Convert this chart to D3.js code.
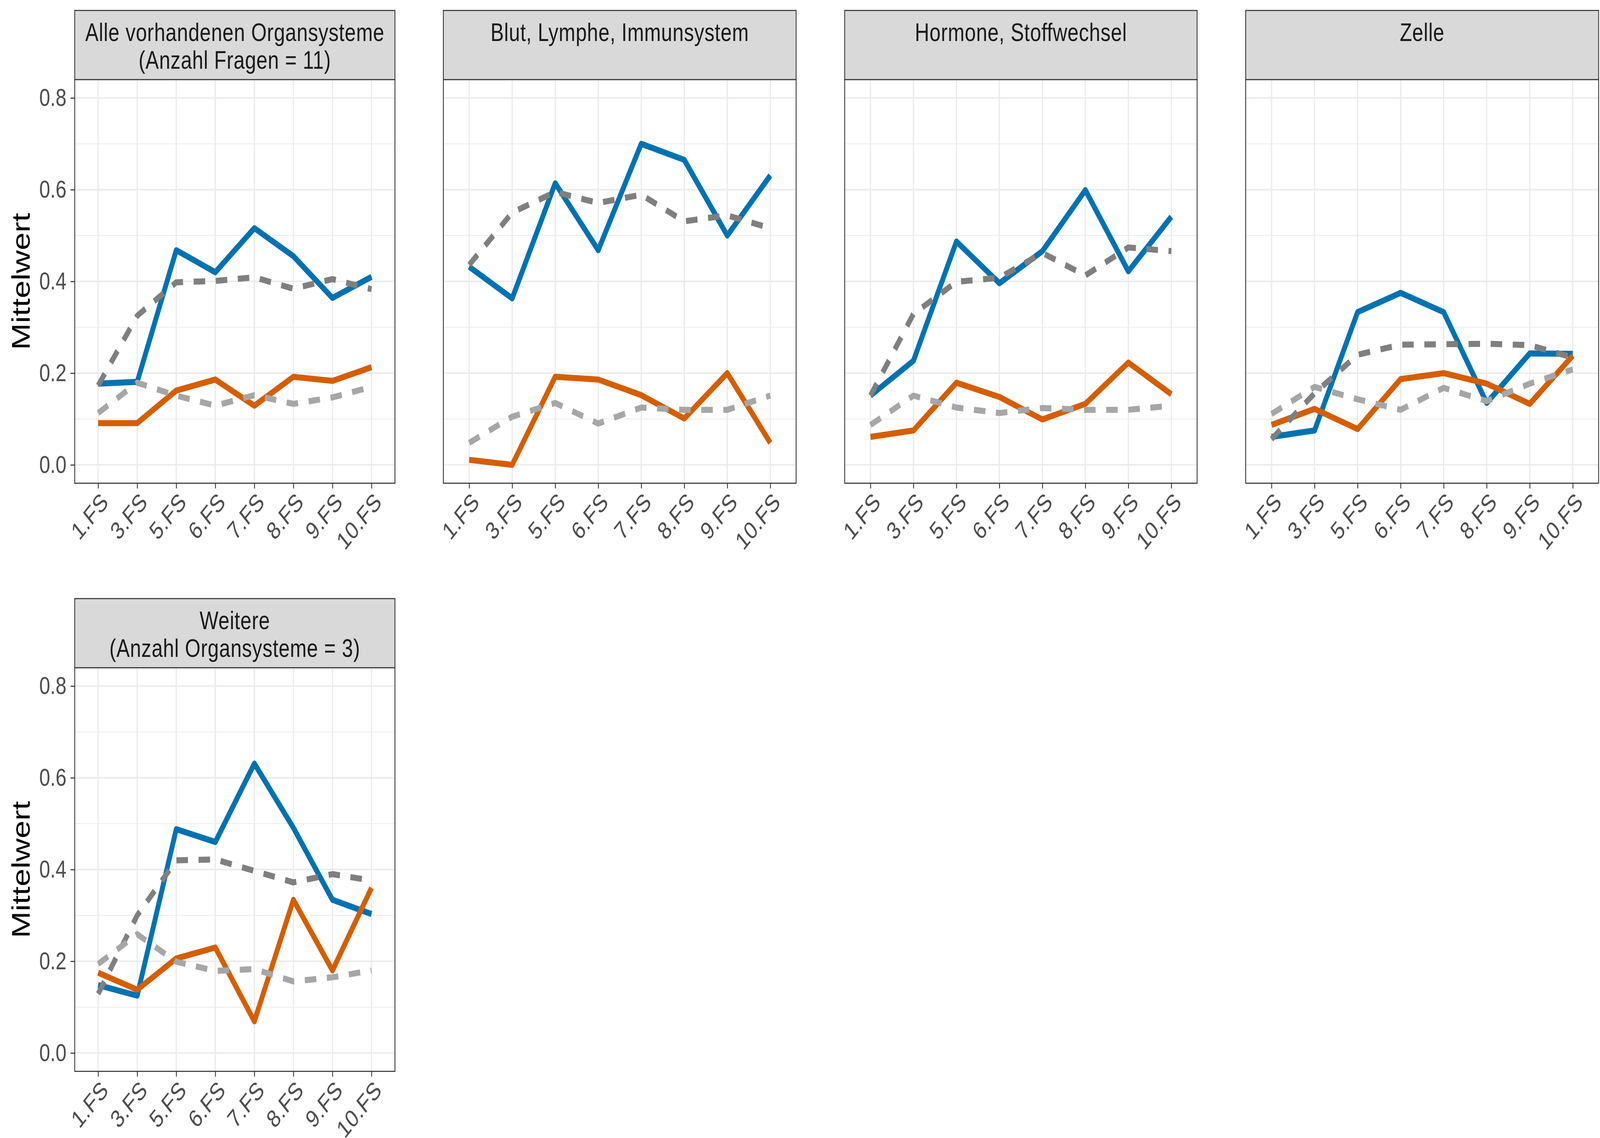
<!DOCTYPE html>
<html lang="de">
<head>
<meta charset="utf-8" />
<title>Mittelwert nach Organsystem</title>
<style>
  * { margin: 0; padding: 0; }
  html, body { background: white; overflow: hidden; }
  svg { display: block; width: 100vw; height: 100vh; font-family: "Liberation Sans", Arial, sans-serif; }
</style>
</head>
<body>
<script src="https://d3js.org/d3.v7.min.js"></script>
<div id="chart"></div>
<script>

  // categories and labels
  var categories = ["1.FS", "3.FS", "5.FS", "6.FS", "7.FS", "8.FS", "9.FS", "10.FS"];
  var panelTitles = [
    ["Alle vorhandenen Organsysteme", "(Anzahl Fragen = 11)"],
    ["Blut, Lymphe, Immunsystem"],
    ["Hormone, Stoffwechsel"],
    ["Zelle"],
    ["Weitere", "(Anzahl Organsysteme = 3)"]
  ];
  var yTicks = [0, 0.2, 0.4, 0.6, 0.8];
  var yMinor = [0.1, 0.3, 0.5, 0.7];

  // series values, one row per panel
  var blueSeries = [
    [0.177, 0.181, 0.468, 0.420, 0.516, 0.455, 0.364, 0.410],
    [0.432, 0.363, 0.614, 0.468, 0.700, 0.665, 0.500, 0.631],
    [0.151, 0.227, 0.487, 0.396, 0.466, 0.599, 0.422, 0.541],
    [0.061, 0.075, 0.333, 0.375, 0.333, 0.135, 0.243, 0.242],
    [0.148, 0.125, 0.488, 0.460, 0.631, 0.491, 0.334, 0.303]
  ];
  var orangeSeries = [
    [0.091, 0.091, 0.162, 0.186, 0.129, 0.192, 0.183, 0.213],
    [0.011, 0.000, 0.192, 0.186, 0.152, 0.101, 0.200, 0.048],
    [0.061, 0.075, 0.179, 0.148, 0.099, 0.133, 0.223, 0.154],
    [0.087, 0.122, 0.078, 0.187, 0.200, 0.177, 0.133, 0.238],
    [0.175, 0.138, 0.206, 0.230, 0.069, 0.334, 0.180, 0.360]
  ];
  var darkGreySeries = [
    [0.173, 0.325, 0.398, 0.401, 0.409, 0.384, 0.405, 0.383],
    [0.436, 0.550, 0.595, 0.571, 0.589, 0.531, 0.544, 0.516],
    [0.151, 0.329, 0.399, 0.408, 0.462, 0.413, 0.474, 0.466],
    [0.056, 0.156, 0.240, 0.262, 0.263, 0.264, 0.261, 0.234],
    [0.129, 0.300, 0.420, 0.422, 0.397, 0.372, 0.390, 0.376]
  ];
  var lightGreySeries = [
    [0.113, 0.179, 0.151, 0.129, 0.152, 0.133, 0.147, 0.170],
    [0.048, 0.105, 0.135, 0.090, 0.125, 0.120, 0.120, 0.151],
    [0.087, 0.151, 0.125, 0.113, 0.124, 0.120, 0.120, 0.129],
    [0.111, 0.170, 0.143, 0.120, 0.168, 0.139, 0.177, 0.208],
    [0.194, 0.259, 0.199, 0.179, 0.183, 0.156, 0.165, 0.180]
  ];

  var series = [
    { values: blueSeries, color: "#0072B2", dash: null },
    { values: orangeSeries, color: "#D55E00", dash: null },
    { values: darkGreySeries, color: "#7F7F7F", dash: "37,34" },
    { values: lightGreySeries, color: "#A6A6A6", dash: "37,34" }
  ];

  // panel layout (pixels, in the 5139 x 2914 view box)
  var W = 5139, H = 2914;
  var stripH = 177, plotH = 1033.5, rowStep = 1506;
  var panels = [
    { x0: 240, x1: 1268.5, top: 26.8, yAxis: true },
    { x0: 1424, x1: 2557, top: 26.8, yAxis: false },
    { x0: 2713, x1: 3845, top: 26.8, yAxis: false },
    { x0: 4001, x1: 5134.5, top: 26.8, yAxis: false },
    { x0: 240, x1: 1268.5, top: 26.8 + rowStep, yAxis: true }
  ];

  var fontSmall = 63, fontStrip = 64, fontTitle = 82, tickLen = 13.5;
  var border = "#333333", grid = "#EBEBEB";

  // the window may be narrower than the picture, so the view box is stretched to fill it
  var svg = d3.select("#chart").append("svg")
      .attr("viewBox", "0 0 " + W + " " + H)
      .attr("preserveAspectRatio", "none");

  panels.forEach(function(p, i) {
    var plotTop = p.top + stripH;
    var plotBottom = plotTop + plotH;

    var x = d3.scalePoint()
        .domain(categories)
        .range([p.x0, p.x1])
        .padding(0.6);
    var y = d3.scaleLinear()
        .domain([-0.04, 0.84])
        .range([plotBottom, plotTop]);

    var g = svg.append("g");

    // panel background + grid
    g.append("rect")
        .attr("x", p.x0).attr("y", plotTop)
        .attr("width", p.x1 - p.x0).attr("height", plotH)
        .attr("fill", "white");
    g.selectAll(".minor")
        .data(yMinor)
      .enter().append("line")
        .attr("x1", p.x0).attr("x2", p.x1)
        .attr("y1", function(d) { return y(d); })
        .attr("y2", function(d) { return y(d); })
        .attr("stroke", grid).attr("stroke-width", 2);
    g.selectAll(".majorY")
        .data(yTicks)
      .enter().append("line")
        .attr("x1", p.x0).attr("x2", p.x1)
        .attr("y1", function(d) { return y(d); })
        .attr("y2", function(d) { return y(d); })
        .attr("stroke", grid).attr("stroke-width", 4);
    g.selectAll(".majorX")
        .data(categories)
      .enter().append("line")
        .attr("x1", function(d) { return x(d); })
        .attr("x2", function(d) { return x(d); })
        .attr("y1", plotTop).attr("y2", plotBottom)
        .attr("stroke", grid).attr("stroke-width", 4);

    // lines
    series.forEach(function(s) {
      var line = d3.line()
          .x(function(d, k) { return x(categories[k]); })
          .y(function(d) { return y(d); });
      g.append("path")
          .datum(s.values[i])
          .attr("d", line)
          .attr("fill", "none")
          .attr("stroke", s.color)
          .attr("stroke-width", 15.5)
          .attr("stroke-linejoin", "round")
          .attr("stroke-linecap", "butt")
          .attr("stroke-dasharray", s.dash);
    });

    // panel border
    g.append("rect")
        .attr("x", p.x0).attr("y", plotTop)
        .attr("width", p.x1 - p.x0).attr("height", plotH)
        .attr("fill", "none")
        .attr("stroke", border).attr("stroke-width", 2.7);

    // strip
    g.append("rect")
        .attr("x", p.x0).attr("y", p.top)
        .attr("width", p.x1 - p.x0).attr("height", stripH)
        .attr("fill", "#D9D9D9")
        .attr("stroke", border).attr("stroke-width", 2.7);
    g.append("text")
        .attr("x", (p.x0 + p.x1) / 2)
        .attr("y", p.top + 78.6)
        .attr("text-anchor", "middle")
        .attr("fill", "#1A1A1A")
        .style("font-size", fontStrip + "px")
        .style("letter-spacing", "1px")
        .selectAll("tspan")
        .data(panelTitles[i])
      .enter().append("tspan")
        .attr("x", (p.x0 + p.x1) / 2)
        .attr("dy", function(d, k) { return k === 0 ? 0 : 70.5; })
        .text(function(d) { return d; });

    // x axis
    var xAxis = g.append("g")
        .attr("transform", "translate(0," + plotBottom + ")")
        .call(d3.axisBottom(x).tickSize(tickLen).tickPadding(0));
    xAxis.select(".domain").remove();
    xAxis.selectAll(".tick line")
        .attr("stroke", border).attr("stroke-width", 2.7);
    xAxis.selectAll(".tick text")
        .attr("fill", "#4D4D4D")
        .style("font-size", fontSmall + "px")
        .style("letter-spacing", "1px")
        .style("font-family", "Liberation Sans, Arial, sans-serif")
        .attr("text-anchor", "end")
        .attr("y", 0)
        .attr("dy", "0.72em")
        .attr("transform", "translate(4," + (tickLen + 6) + ") rotate(-45)");

    // y axis
    if (p.yAxis) {
      var yAxis = g.append("g")
          .attr("transform", "translate(" + p.x0 + ",0)")
          .call(d3.axisLeft(y).tickValues(yTicks).tickFormat(d3.format(".1f"))
            .tickSize(tickLen).tickPadding(13));
      yAxis.select(".domain").remove();
      yAxis.selectAll(".tick line")
          .attr("stroke", border).attr("stroke-width", 2.7);
      yAxis.selectAll(".tick text")
          .attr("fill", "#4D4D4D")
          .style("font-size", fontSmall + "px")
          .style("font-family", "Liberation Sans, Arial, sans-serif");

      svg.append("text")
          .attr("transform", "translate(95," + ((plotTop + plotBottom) / 2) + ") rotate(-90)")
          .attr("text-anchor", "middle")
          .attr("fill", "black")
          .style("font-size", fontTitle + "px")
          .text("Mittelwert");
    }
  });

</script>
</body>
</html>
